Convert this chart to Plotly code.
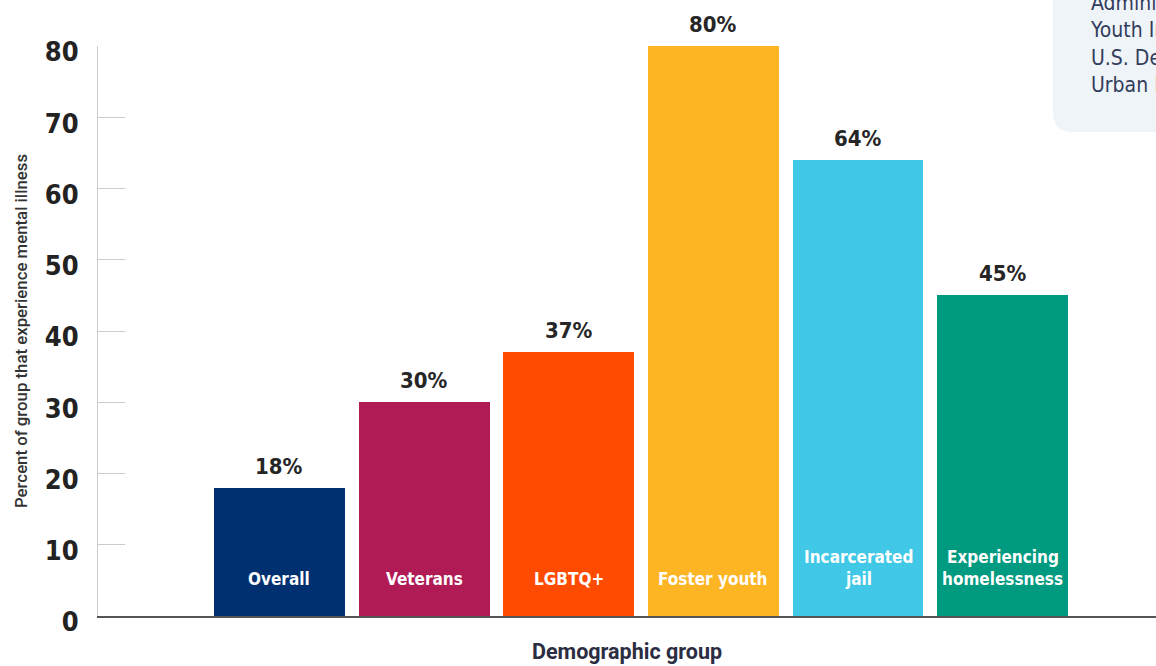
import plotly.graph_objects as go

categories = ["Overall", "Veterans", "LGBTQ+", "Foster youth", "Incarcerated<br>jail", "Experiencing<br>homelessness"]
values = [18, 30, 37, 80, 64, 45]
colors = ["#003070", "#b01a55", "#ff4b00", "#fdb524", "#40c8e6", "#009a80"]
y_ticks = [0, 10, 20, 30, 40, 50, 60, 70, 80]
source_lines = ["Administration;", "Youth Involved in Justice;", "U.S. Department of Housing and", "Urban Development"]

COND = "DejaVu Sans Condensed, Liberation Sans Narrow, sans-serif"

idx = list(range(len(categories)))

fig = go.Figure()
fig.add_trace(go.Bar(
    x=idx, y=values, marker=dict(color=colors, line=dict(width=0)),
    width=0.905, hoverinfo="skip", cliponaxis=False,
))

annotations = []
for i, v in zip(idx, values):
    annotations.append(dict(
        x=i, y=v, xref="x", yref="y", text=f"{v}%", showarrow=False,
        yanchor="bottom", yshift=7,
        font=dict(family=COND, size=22, color="#262626", weight="bold"),
    ))
for i, lab in zip(idx, categories):
    lines = lab.split("<br>")
    n = len(lines)
    for k, line in enumerate(lines):
        annotations.append(dict(
            x=i, y=0, xref="x", yref="y", text=line, showarrow=False,
            yanchor="bottom", yshift=25 + (n - 1 - k) * 22,
            font=dict(family=COND, size=17, color="#ffffff", weight="bold"),
        ))

W, H, L, T, B = 1156, 666, 98, 46, 50
PW, PH = W - L, H - T - B

# source box text
annotations.append(dict(
    x=(1088 - L) / PW, y=(616 - 99) / PH, xref="paper", yref="paper",
    xanchor="left", yanchor="bottom", align="left", showarrow=False,
    text="<br>".join(source_lines),
    font=dict(family=COND, size=21, color="#323c5c"),
))

fx = lambda px: (px - L) / PW
fy = lambda py: (616 - py) / PH
x0, x1, y0, y1 = fx(1053), fx(1180), fy(132), fy(-20)
rx, ry = 20 / PW, 20 / PH
path = (f"M {x0},{y1} L {x0},{y0 + ry} Q {x0},{y0} {x0 + rx},{y0} "
        f"L {x1},{y0} L {x1},{y1} Z")

fig.update_layout(
    width=W, height=H,
    margin=dict(l=L, r=0, t=T, b=B),
    plot_bgcolor="white", paper_bgcolor="white",
    showlegend=False, bargap=0,
    annotations=annotations,
    shapes=[dict(type="path", path=path, xref="paper", yref="paper",
                 fillcolor="#eff4f8", line=dict(width=0), layer="below")],
    xaxis=dict(
        range=[-1.254, 6.06], showticklabels=False, showgrid=False, zeroline=False,
        showline=True, linecolor="#555555", linewidth=1.5, ticks="",
        title=dict(text="Demographic group", standoff=27,
                   font=dict(family="Roboto", size=21.5, color="#2b2d42", weight="bold")),
    ),
    yaxis=dict(
        range=[0, 80], tickvals=y_ticks, ticks="inside", ticklen=27,
        tickcolor="#cccccc", tickwidth=1, showgrid=False, zeroline=False,
        showline=True, linecolor="#cccccc", linewidth=1,
        ticklabelstandoff=13, ticklabelshift=6,
        tickfont=dict(family=COND, size=27, color="#222222", weight="bold"),
        title=dict(text="Percent of group that experience mental illness", standoff=12,
                   font=dict(family="Roboto", size=16.8, color="#333333", weight=500)),
    ),
)

fig.write_html("out.html", config={"displayModeBar": False},
               post_script="document.body.style.margin='0';document.body.style.overflow='hidden';")
